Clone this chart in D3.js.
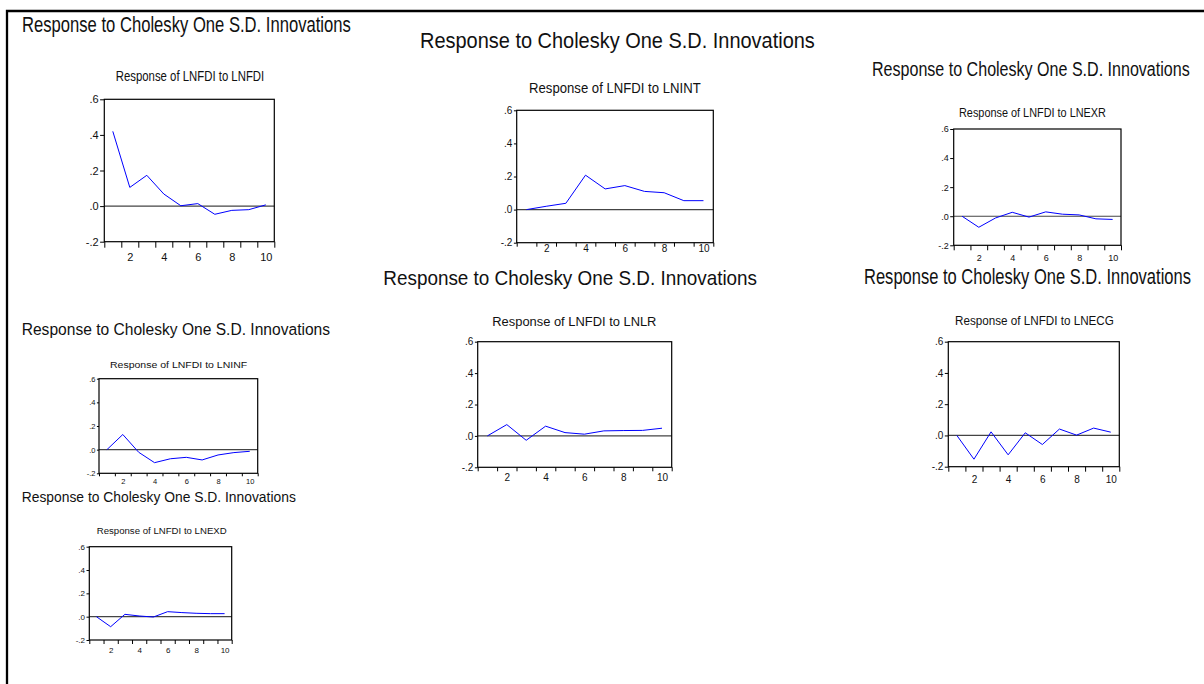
<!DOCTYPE html>
<html>
<head>
<meta charset="utf-8">
<script src="https://cdn.jsdelivr.net/npm/d3@7"></script>
<style>
  body { margin: 0; background: #fff; }
  svg { display: block; }
  text { font-family: "Liberation Sans", Arial, sans-serif; fill: #111; }
</style>
</head>
<body>
<div id="chart"></div>
<script>
// impulse responses of LNFDI to each shock, periods 1..10
let periods = [1, 2, 3, 4, 5, 6, 7, 8, 9, 10];
let respLNFDI = [0.42, 0.105, 0.173, 0.068, 0.002, 0.014, -0.046, -0.024, -0.020, 0.007];
let respLNINT = [0.0, 0.02, 0.038, 0.208, 0.125, 0.145, 0.11, 0.102, 0.054, 0.054];
let respLNEXR = [0.0, -0.076, -0.012, 0.027, -0.006, 0.03, 0.014, 0.009, -0.018, -0.022];
let respLNINF = [0.0, 0.128, -0.022, -0.11, -0.077, -0.065, -0.087, -0.045, -0.025, -0.014];
let respLNLR  = [0.0, 0.072, -0.028, 0.062, 0.021, 0.011, 0.032, 0.034, 0.035, 0.049];
let respLNECG = [0.0, -0.152, 0.023, -0.124, 0.017, -0.058, 0.041, 0.002, 0.047, 0.021];
let respLNEXD = [0.0, -0.086, 0.02, 0.006, -0.003, 0.043, 0.035, 0.029, 0.026, 0.026];

let yTickValues = [-0.2, 0, 0.2, 0.4, 0.6];
let yTickLabels = ["-.2", ".0", ".2", ".4", ".6"];
let xLabelPeriods = [2, 4, 6, 8, 10];
let mainTitle = "Response to Cholesky One S.D. Innovations";

let series = {
  LNFDI: respLNFDI, LNINT: respLNINT, LNEXR: respLNEXR, LNINF: respLNINF,
  LNLR: respLNLR, LNECG: respLNECG, LNEXD: respLNEXD
};

// where each pasted eviews graph sits on the page (they were all stretched differently)
let layout = [
  {shock: "LNFDI", box: [104.3, 99.3, 274.3, 241.7], title: [22, 32.3, 21.8, 329], sub: [115.7, 81, 14, 148.6], tickFs: 11, tickLen: 6, xLab: 261},
  {shock: "LNINT", box: [516.7, 110.3, 713.3, 242.7], title: [420, 48.3, 21.9, 395], sub: [529, 93.3, 14.9, 171.7], tickFs: 10, tickLen: 4, xLab: 252},
  {shock: "LNEXR", box: [953.7, 129, 1121, 245.3], title: [872, 76, 20, 318], sub: [959, 116.7, 12.6, 147], tickFs: 9, tickLen: 5, xLab: 261},
  {shock: "LNINF", box: [99, 378.7, 257.7, 473.3], title: [21.7, 335, 16.3, 308.3], sub: [110, 367.7, 8.8, 137.3], tickFs: 7.5, tickLen: 3, xLab: 484.3},
  {shock: "LNLR",  box: [477.7, 341.7, 671.7, 467.3], title: [383.3, 284.5, 20.5, 374], sub: [492.3, 326, 13, 164.4], tickFs: 10, tickLen: 4, xLab: 481.5},
  {shock: "LNECG", box: [948.3, 341.7, 1119.3, 466.7], title: [864, 284, 21.9, 327], sub: [955, 325.3, 12.1, 159], tickFs: 10, tickLen: 5, xLab: 483.3},
  {shock: "LNEXD", box: [89.3, 546.7, 231.7, 640], title: [21.7, 502.3, 14.8, 274.3], sub: [96.7, 534, 8.8, 130], tickFs: 8, tickLen: 4, xLab: 652.7}
];

let W = 1204, H = 684;
let svg = d3.select("#chart").append("svg")
  .attr("width", W)
  .attr("height", H);

svg.append("rect").attr("width", W).attr("height", H).attr("fill", "#fff");

// outer frame, only top and left edges show
svg.append("path")
  .attr("d", "M7," + H + "V11H" + W)
  .attr("fill", "none")
  .attr("stroke", "#000")
  .attr("stroke-width", 2.3);

// text squeezed horizontally to the width it has in the picture
function squeezedText(parent, spec, str) {
  let t = parent.append("text")
    .attr("font-size", spec[2])
    .text(str);
  let natural = t.node().getComputedTextLength();
  let sx = spec[3] / natural;
  t.attr("transform", "translate(" + spec[0] + "," + spec[1] + ") scale(" + sx + ",1)");
  return t;
}

layout.forEach(function(p) {
  let [L, T, R, B] = p.box;
  let data = periods.map(function(d, i) { return {p: d, v: series[p.shock][i]}; });

  let x = d3.scaleLinear().domain([0.5, 10.5]).range([L, R]);
  let y = d3.scaleLinear().domain([-0.2, 0.6]).range([B, T]);

  let g = svg.append("g");

  // titles
  squeezedText(g, p.title, mainTitle);
  squeezedText(g, p.sub, "Response of LNFDI to " + p.shock);

  // y axis
  let yAxis = g.append("g")
    .attr("transform", "translate(" + L + ",0)")
    .call(d3.axisLeft(y)
      .tickValues(yTickValues)
      .tickFormat(function(d, i) { return yTickLabels[i]; })
      .tickSize(p.tickLen * 0.7)
      .tickPadding(1.5));
  yAxis.select(".domain").remove();

  // x ticks on period boundaries
  let xTicks = g.append("g")
    .attr("transform", "translate(0," + B + ")")
    .call(d3.axisBottom(x)
      .tickValues(d3.range(0.5, 11, 1))
      .tickFormat("")
      .tickSize(p.tickLen));
  xTicks.select(".domain").remove();

  // x labels on even periods
  let xLabels = g.append("g")
    .attr("transform", "translate(0," + B + ")")
    .call(d3.axisBottom(x)
      .tickValues(xLabelPeriods)
      .tickSize(0)
      .tickPadding(p.xLab - B - 0.71 * p.tickFs));
  xLabels.select(".domain").remove();

  g.selectAll(".tick text")
    .attr("font-family", null)
    .attr("font-size", p.tickFs)
    .attr("fill", "#111");
  g.selectAll(".tick line").attr("stroke", "#000");
  g.selectAll("g").attr("font-family", null);

  // zero line
  g.append("line")
    .attr("x1", L).attr("x2", R)
    .attr("y1", y(0)).attr("y2", y(0))
    .attr("stroke", "#444")
    .attr("stroke-width", 1.2);

  // response path
  g.append("path")
    .datum(data)
    .attr("fill", "none")
    .attr("stroke", "#0000ff")
    .attr("stroke-width", 1)
    .attr("d", d3.line()
      .x(function(d) { return x(d.p); })
      .y(function(d) { return y(d.v); }));

  // plot frame
  g.append("rect")
    .attr("x", L).attr("y", T)
    .attr("width", R - L).attr("height", B - T)
    .attr("fill", "none")
    .attr("stroke", "#000")
    .attr("stroke-width", 1.2);
});
</script>
</body>
</html>
